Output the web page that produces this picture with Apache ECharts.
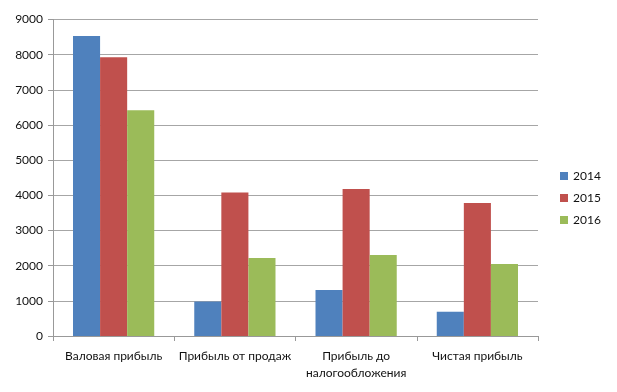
<!DOCTYPE html>
<html><head><meta charset="utf-8">
<script src="https://cdn.jsdelivr.net/npm/echarts@6/dist/echarts.min.js"></script>
<style>html,body{margin:0;padding:0;background:#fff}#c{width:617px;height:392px}</style>
</head><body><div id="c"></div>
<script>
var categories = ['Валовая прибыль', 'Прибыль от продаж', 'Прибыль до\nналогообложения', 'Чистая прибыль'];
var s2014 = [8530, 980, 1310, 690];
var s2015 = [7930, 4080, 4180, 3780];
var s2016 = [6420, 2220, 2300, 2050];
var yTicks = [0, 1000, 2000, 3000, 4000, 5000, 6000, 7000, 8000, 9000];

var font = 'Lato, "Open Sans", sans-serif';
var chart = echarts.init(document.getElementById('c'), null, {renderer: 'canvas'});
function bar(name, data, color) {
  return {name: name, type: 'bar', data: data, barGap: '0%', barCategoryGap: '33%',
    itemStyle: {color: color}};
}
chart.setOption({
  animation: false,
  color: ['#4F81BD', '#C0504D', '#9BBB59'],
  grid: {left: 53, right: 79, top: 19.5, bottom: 56, containLabel: false},
  legend: {
    orient: 'vertical', left: 555, top: 165, itemWidth: 8, itemHeight: 8, itemGap: 10,
    icon: 'rect', textStyle: {fontFamily: font, fontSize: 12, color: '#111'},
    data: ['2014', '2015', '2016']
  },
  xAxis: {
    type: 'category', data: categories,
    axisLine: {lineStyle: {color: '#999', width: 1}},
    axisTick: {show: true, length: 5, interval: 0, alignWithLabel: false, lineStyle: {color: '#999'}},
    axisLabel: {interval: 0, fontFamily: font, fontSize: 12, color: '#111', margin: 12, lineHeight: 17}
  },
  yAxis: {
    type: 'value', min: yTicks[0], max: yTicks[yTicks.length - 1], interval: 1000,
    axisLine: {show: true, lineStyle: {color: '#999'}},
    axisTick: {show: true, length: 5, lineStyle: {color: '#999'}},
    axisLabel: {fontFamily: font, fontSize: 12, color: '#111', margin: 10,
      formatter: function (v) { return String(v); }},
    splitLine: {lineStyle: {color: '#a6a6a6', width: 1}}
  },
  series: [bar('2014', s2014, '#4F81BD'), bar('2015', s2015, '#C0504D'), bar('2016', s2016, '#9BBB59')]
});
</script></body></html>
